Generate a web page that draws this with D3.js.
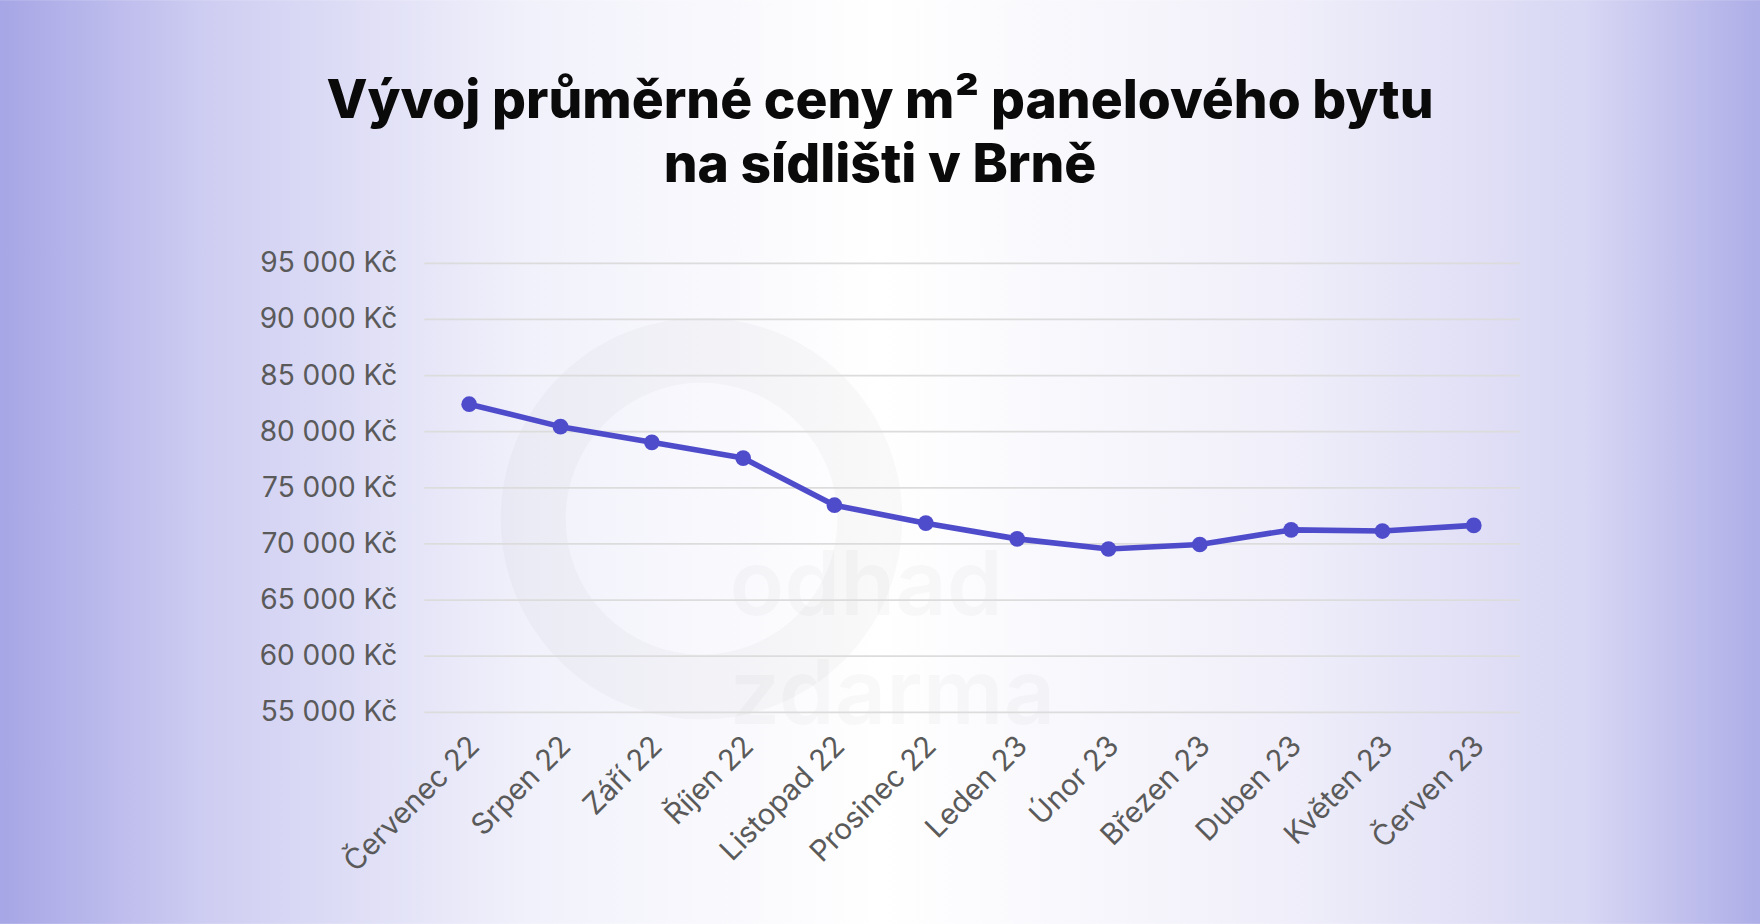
<!DOCTYPE html><html><head><meta charset="utf-8"><script src="https://cdn.jsdelivr.net/npm/d3@7"></script>
<style>body{margin:0;overflow:hidden}</style></head><body><svg id="c"></svg><script>
const categories=["Červenec 22","Srpen 22","Září 22","Říjen 22","Listopad 22","Prosinec 22","Leden 23","Únor 23","Březen 23","Duben 23","Květen 23","Červen 23"];
const values=[82400,80400,79000,77600,73400,71800,70400,69500,69900,71200,71100,71600];
const yTicks=[55000,60000,65000,70000,75000,80000,85000,90000,95000];
const W=1568,H=823;
const svg=d3.select("#c").attr("width",1760).attr("height",924).attr("viewBox",`0 0 ${W} ${H}`);
const defs=svg.append("defs");
const g=defs.append("linearGradient").attr("id","bg");
[[0,"#a7a6e6"],[0.12,"#cfcef2"],[0.3,"#f1f1fb"],[0.5,"#ffffff"],[0.72,"#f1f0fa"],[0.9,"#d8d7f4"],[1,"#aeaee8"]].forEach(([o,c])=>g.append("stop").attr("offset",o).attr("stop-color",c));
svg.append("rect").attr("width",W).attr("height",H).attr("fill","url(#bg)");
svg.append("circle").attr("cx",625).attr("cy",462).attr("r",150).attr("fill","none").attr("stroke","#000").attr("stroke-opacity",0.022).attr("stroke-width",58);
svg.append("text").attr("x",650).attr("y",548).attr("font-family","Inter").attr("font-weight",600).attr("font-size",80).attr("fill","#000").attr("fill-opacity",0.022).text("odhad");
svg.append("text").attr("x",650).attr("y",645).attr("font-family","Inter").attr("font-weight",600).attr("font-size",80).attr("fill","#000").attr("fill-opacity",0.022).text("zdarma");
const title=svg.append("text").attr("text-anchor","middle").attr("font-family","Inter").attr("font-weight",800).attr("font-size",47.5).attr("fill","#0a0a0a");
title.append("tspan").attr("x",784).attr("y",105).text("Vývoj průměrné ceny m² panelového bytu");
title.append("tspan").attr("x",784).attr("y",162).text("na sídlišti v Brně");
const x=d3.scalePoint().domain(categories).range([418,1313]);
const y=d3.scaleLinear().domain([55000,95000]).range([634,234]);
const fmt=v=>d3.format(",")(v).replace(","," ")+" Kč";
const ya=svg.append("g").attr("transform","translate(378,0)").call(d3.axisLeft(y).tickValues(yTicks).tickSize(-976).tickPadding(24).tickFormat(fmt));
ya.select(".domain").remove();
ya.selectAll("line").attr("stroke","#dcdcdc").attr("stroke-width",1.5);
ya.selectAll("text").attr("font-family","Inter").attr("font-size",25).attr("fill","#5a5a5a");
const xa=svg.append("g").attr("transform","translate(0,634)").call(d3.axisBottom(x).tickSize(0));
xa.select(".domain").remove();
xa.selectAll("text").attr("font-family","Inter").attr("font-size",26).attr("fill","#5a5a5a").attr("text-anchor","end").attr("dy",0).attr("transform","translate(8,30) rotate(-45)");
svg.append("path").datum(values).attr("fill","none").attr("stroke","#4f4ccc").attr("stroke-width",5).attr("stroke-linejoin","round")
 .attr("d",d3.line().x((d,i)=>x(categories[i])).y(d=>y(d)));
svg.selectAll("circle.p").data(values).join("circle").attr("class","p").attr("cx",(d,i)=>x(categories[i])).attr("cy",d=>y(d)).attr("r",7).attr("fill","#4f4ccc");
</script></body></html>
